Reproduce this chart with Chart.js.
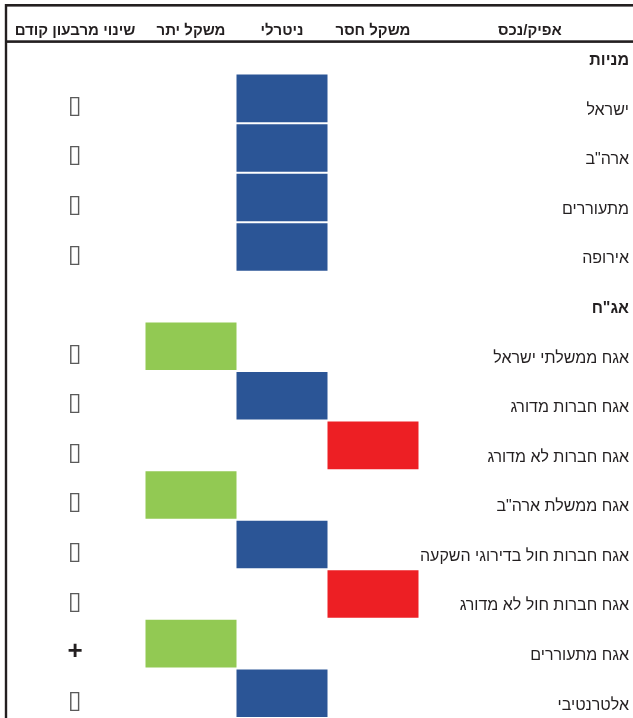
<!DOCTYPE html>
<html lang="he">
<head>
<meta charset="utf-8">
<script src="https://cdn.jsdelivr.net/npm/chart.js@4/dist/chart.umd.min.js"></script>
<style>
html,body{margin:0;padding:0;background:#fff;overflow:hidden;}
#wrap{width:633px;height:718px;position:relative;}
</style>
</head>
<body>
<div id="wrap"><canvas id="c" width="633" height="718"></canvas></div>
<script>
// ---- data ----
const rows = ['מניות','ישראל','ארה"ב','מתעוררים','אירופה','אג"ח','אגח ממשלתי ישראל','אגח חברות מדורג','אגח חברות לא מדורג','אגח ממשלת ארה"ב','אגח חברות חול בדירוגי השקעה','אגח חברות חול לא מדורג','אגח מתעוררים','אלטרנטיבי'];
const sectionRows = [true,false,false,false,false,true,false,false,false,false,false,false,false,false];
// 1 = משקל יתר, 2 = ניטרלי, 3 = משקל חסר, null = section title
const positions = [null,2,2,2,2,null,1,2,3,1,2,3,1,2];
const changes = ['','▯','▯','▯','▯','','▯','▯','▯','▯','▯','▯','+','▯'];
const columnHeaders = ['שינוי מרבעון קודם','משקל יתר','ניטרלי','משקל חסר','אפיק/נכס'];
const positionColors = {1:'#92c953', 2:'#2b5596', 3:'#ed1f24'};

// ---- layout ----
const FONT = "'Liberation Sans Narrow','Liberation Sans','Arial',sans-serif";
const COL_CHANGE = -0.275, COL_ASSET = 4.725;
const headerCols = [COL_CHANGE, 1, 2, 3, COL_ASSET];
const PX_ORIGIN = 100, PX_UNIT = 91, AREA_LEFT = 6, AREA_RIGHT = 629;

const blockData = positions.map(p => p == null ? null : [p - 0.5, p + 0.5]);
const blockColors = positions.map(p => p == null ? 'rgba(0,0,0,0)' : positionColors[p]);

const tablePlugin = {
  id: 'table',
  afterDraw(chart) {
    const {ctx, scales: {x, y}} = chart;
    ctx.save();
    ctx.fillStyle = '#231f20';
    // frame lines
    ctx.fillRect(5, 4, 628, 2.6);
    ctx.fillRect(5, 40.3, 628, 2.6);
    ctx.fillRect(4.8, 4, 2.4, 714);
    // headers
    ctx.font = 'bold 15px ' + FONT;
    ctx.textAlign = 'center';
    ctx.textBaseline = 'middle';
    columnHeaders.forEach((h, i) => ctx.fillText(h, x.getPixelForValue(headerCols[i]), 30.5));
    // change markers
    changes.forEach((c, i) => {
      if (!c) return;
      const px = x.getPixelForValue(COL_CHANGE);
      const py = y.getPixelForValue(i) + 8;
      if (c === '+') {
        ctx.font = 'bold 26px ' + FONT;
        ctx.fillStyle = '#231f20';
      } else {
        ctx.font = "25px 'DejaVu Sans'";
        ctx.fillStyle = '#5a5a5a';
      }
      ctx.fillText(c, px, py);
    });
    ctx.restore();
  }
};

new Chart(document.getElementById('c'), {
  type: 'bar',
  data: {
    labels: rows,
    datasets: [{
      data: blockData,
      backgroundColor: blockColors,
      borderWidth: 0,
      barPercentage: 0.96,
      categoryPercentage: 1
    }]
  },
  plugins: [tablePlugin],
  options: {
    indexAxis: 'y',
    responsive: false,
    animation: false,
    devicePixelRatio: 1,
    layout: {padding: {left: AREA_LEFT, right: 633 - AREA_RIGHT, top: 24, bottom: 0}},
    plugins: {legend: {display: false}, tooltip: {enabled: false}},
    scales: {
      x: {
        type: 'linear',
        display: false,
        min: (AREA_LEFT - PX_ORIGIN) / PX_UNIT,
        max: (AREA_RIGHT - PX_ORIGIN) / PX_UNIT
      },
      y: {
        type: 'category',
        position: 'right',
        grid: {display: false, drawTicks: false},
        border: {display: false},
        afterFit(scale) { scale.paddingTop = 0; scale.paddingBottom = 0; },
        ticks: {
          mirror: true,
          padding: 0,
          labelOffset: 12,
          autoSkip: false,
          color: '#231f20',
          font: (ctx) => ({family: FONT, size: 16, weight: sectionRows[ctx.index] ? 'bold' : 'normal'})
        }
      }
    }
  }
});
</script>
</body>
</html>
